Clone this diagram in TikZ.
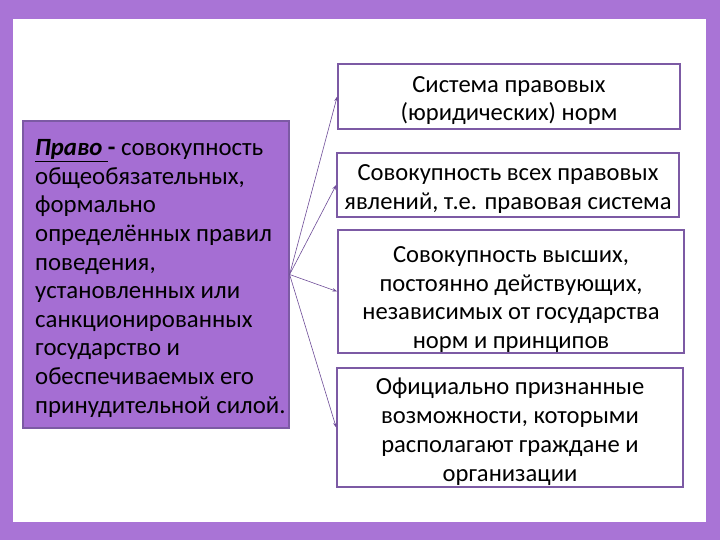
\documentclass[tikz,border=0pt]{standalone}
\usepackage{fontspec}
\setmainfont{Carlito}
\usetikzlibrary{arrows.meta}
\definecolor{bgpurple}{HTML}{A974D6}
\definecolor{boxpurple}{HTML}{A56ED3}
\definecolor{edgepurple}{HTML}{7C5AA4}
\definecolor{arrowpurple}{HTML}{6E4C98}
\newcommand\myLift[1]{\rule{0pt}{#1}}
\tikzset{
  rbox/.style={draw=edgepurple, line width=1.6pt, fill=white, inner sep=0pt, align=center,
    font=\fontsize{24.6}{28.8}\selectfont},
  lbox/.style={draw=edgepurple, line width=1.2pt, fill=boxpurple, inner sep=0pt},
  ltext/.style={inner sep=0pt, align=left, anchor=north west, font=\fontsize{24.8}{28.6}\selectfont},
  conn/.style={draw=arrowpurple, line width=0.6pt, -{Stealth[length=5pt,width=3.5pt]}}
}
\begin{document}
\begin{tikzpicture}[x=1pt,y=-1pt]
\useasboundingbox (0,0) rectangle (720,540);
\fill[bgpurple] (0,0) rectangle (720,540);
\fill[white] (13,19) rectangle (706,522);
% left box
\node[lbox, minimum width=266pt, minimum height=307pt] (L) at (156,274.5) {};
\node[ltext] (Lt) at (35,139.5) {\textbf{\textit{\underline{Право\ }}}\textbf{-} совокупность\\
общеобязательных,\\
формально\\
определённых правил\\
поведения,\\
установленных или\\
санкционированных\\
государство и\\
обеспечиваемых его\\
принудительной силой.};
% right boxes
\node[rbox, minimum width=342pt, minimum height=65pt] (B1) at (509,96.5) {\myLift{24pt}Система правовых\\(юридических) норм};
\node[rbox, minimum width=342pt, minimum height=64pt] (B2) at (508,185) {\myLift{24pt}Совокупность всех правовых\\явлений, т.е. правовая система};
\node[rbox, minimum width=346pt, minimum height=123pt] (B3) at (511,291.5) {\myLift{32pt}Совокупность высших,\\постоянно действующих,\\независимых от государства\\норм и принципов};
\node[rbox, minimum width=346pt, minimum height=119pt] (B4) at (510,427.5) {\myLift{25pt}Официально признанные\\возможности, которыми\\располагают граждане и\\организации};
% connectors
\draw[conn] (L.east) -- (B1.west);
\draw[conn] (L.east) -- (B2.west);
\draw[conn] (L.east) -- (B3.west);
\draw[conn] (L.east) -- (B4.west);
\end{tikzpicture}
\end{document}
